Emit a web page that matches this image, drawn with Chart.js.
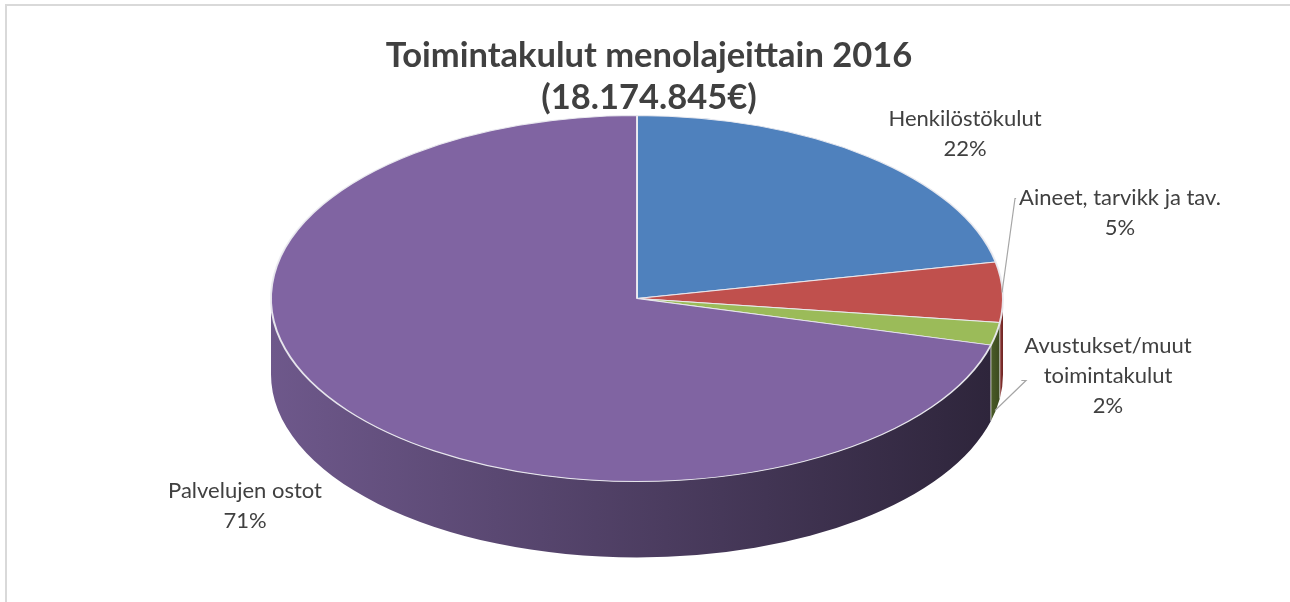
<!DOCTYPE html>
<html>
<head>
<meta charset="utf-8">
<script src="https://cdn.jsdelivr.net/npm/chart.js@4.4.1/dist/chart.umd.min.js"></script>
<style>
  html, body { margin: 0; padding: 0; background: #ffffff; overflow: hidden; }
  #wrap { position: absolute; left: 0; top: 0; width: 1290px; height: 602px; }
  #frame { position: absolute; left: 5px; top: 4px; width: 1400px; height: 700px;
           border-left: 2px solid #d9d9d9; border-top: 2px solid #d9d9d9; box-sizing: border-box; }
  canvas { position: absolute; left: 0; top: 0; }
</style>
</head>
<body>
<div id="wrap">
  <div id="frame"></div>
  <canvas id="c" width="1290" height="602"></canvas>
</div>
<script>
// ---- data ----
const titleLines = ['Toimintakulut menolajeittain 2016', '(18.174.845€)'];
const categories = ['Henkilöstökulut', 'Aineet, tarvikk ja tav.', 'Avustukset/muut toimintakulut', 'Palvelujen ostot'];
const labelLines = [['Henkilöstökulut'], ['Aineet, tarvikk ja tav.'], ['Avustukset/muut', 'toimintakulut'], ['Palvelujen ostot']];
const values = [21.8, 5.3, 2.0, 70.9];
const topColors = ['#4f81bd', '#c0504d', '#9bbb59', '#8064a2'];
const sideLight = ['#3b5f8c', '#8e3532', '#4a5c27', '#6e588b'];
const sideDark  = ['#243a57', '#6e2624', '#3b4a1f', '#2e253b'];

// ---- label layout (offsets from pie centre, px) ----
const labelPos = [
  { dx: 328, dy: -165, leader: null },
  { dx: 483, dy: -86,  leader: [[378, -100], [365, -6]] },
  { dx: 471, dy: 77,   leader: [[389, 82], [358, 112]] },
  { dx: -392, dy: 207, leader: null }
];

const pie3d = {
  id: 'pie3d',
  beforeDatasetsDraw(chart, args, opts) {
    const meta = chart.getDatasetMeta(0);
    const ctx = chart.ctx;
    const first = meta.data[0];
    const cx = first.x, cy = first.y, r = first.outerRadius;
    const rx = r * opts.stretchX, ry = r, d = opts.depth;
    ctx.save();
    meta.data.forEach((arc, i) => {
      const s = Math.max(arc.startAngle, 0), e = Math.min(arc.endAngle, Math.PI);
      if (e <= s) return;
      const xs = cx + rx * Math.cos(e), xe = cx + rx * Math.cos(s);
      const g = ctx.createLinearGradient(Math.min(xs, xe), 0, Math.max(xs, xe), 0);
      g.addColorStop(0, sideLight[i]);
      g.addColorStop(1, sideDark[i]);
      ctx.beginPath();
      ctx.ellipse(cx, cy, rx, ry, 0, s, e, false);
      ctx.ellipse(cx, cy + d, rx, ry, 0, e, s, true);
      ctx.closePath();
      ctx.fillStyle = g;
      ctx.fill();
      if (arc.startAngle > 0 && arc.startAngle < Math.PI) {
        const x = cx + rx * Math.cos(arc.startAngle), y = cy + ry * Math.sin(arc.startAngle);
        ctx.beginPath();
        ctx.moveTo(x, y);
        ctx.lineTo(x, y + d);
        ctx.strokeStyle = opts.edgeColor;
        ctx.lineWidth = 1;
        ctx.stroke();
      }
    });
    ctx.restore();
    ctx.save();
    ctx.translate(cx, cy);
    ctx.scale(opts.stretchX, 1);
    ctx.translate(-cx, -cy);
  },
  afterDatasetsDraw(chart) {
    chart.ctx.restore();
  },
  afterDraw(chart, args, opts) {
    const ctx = chart.ctx;
    const meta = chart.getDatasetMeta(0);
    const cx = meta.data[0].x, cy = meta.data[0].y;
    ctx.save();
    // title
    ctx.fillStyle = '#404040';
    ctx.textAlign = 'center';
    ctx.textBaseline = 'middle';
    ctx.font = 'bold 34.5px Lato';
    titleLines.forEach((t, k) => ctx.fillText(t, opts.titleX, opts.titleY + k * opts.titleLH));
    // labels
    const total = values.reduce((a, b) => a + b, 0);
    ctx.font = '22px Lato';
    labelPos.forEach((p, i) => {
      const lines = labelLines[i].concat([Math.round(values[i] / total * 100) + '%']);
      const n = lines.length;
      const lx = cx + p.dx;
      let maxW = 0;
      lines.forEach((t, k) => {
        maxW = Math.max(maxW, ctx.measureText(t).width);
        ctx.fillText(t, lx, cy + p.dy + (k - (n - 1) / 2) * opts.labelLH);
      });
      if (p.leader) {
        ctx.beginPath();
        const y0 = cy + p.leader[0][1];
        ctx.moveTo(lx - ctx.measureText(lines[0]).width / 2 - 3, y0);
        p.leader.forEach((pt) => ctx.lineTo(cx + pt[0], cy + pt[1]));
        ctx.strokeStyle = '#a6a6a6';
        ctx.lineWidth = 1.2;
        ctx.stroke();
      }
    });
    ctx.restore();
  }
};

new Chart(document.getElementById('c'), {
  type: 'pie',
  data: {
    labels: categories,
    datasets: [{
      data: values,
      backgroundColor: topColors,
      borderColor: 'rgba(235,235,240,0.95)',
      borderWidth: 1,
      hoverOffset: 0
    }]
  },
  options: {
    responsive: false,
    animation: false,
    events: [],
    radius: 183,
    layout: { padding: { top: 116, bottom: 121, left: 0, right: 16 } },
    plugins: {
      legend: { display: false },
      title: { display: false },
      tooltip: { enabled: false },
      pie3d: { stretchX: 2.0, depth: 76, edgeColor: 'rgba(220,220,220,0.8)', titleX: 649, titleY: 56, titleLH: 42, labelLH: 30 }
    }
  },
  plugins: [pie3d]
});
</script>
</body>
</html>
